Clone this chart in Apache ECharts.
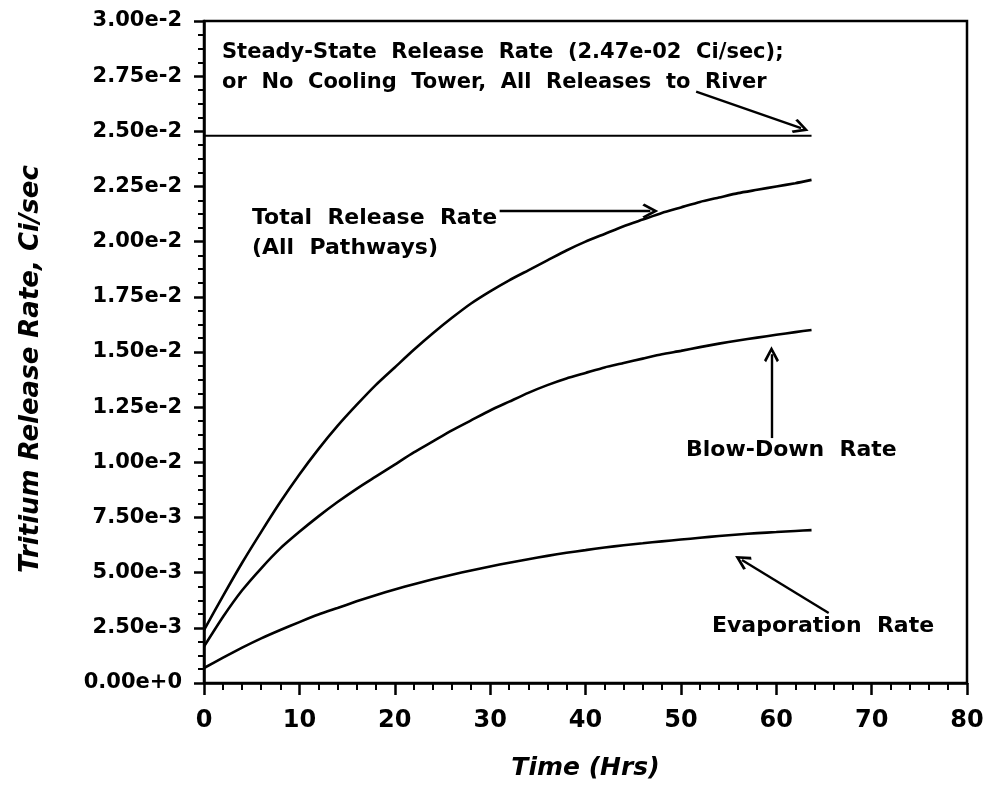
<!DOCTYPE html>
<html>
<head>
<meta charset="utf-8">
<script src="https://cdn.jsdelivr.net/npm/echarts@6/dist/echarts.min.js"></script>
<style>html,body{margin:0;padding:0;background:#fff;}#c{width:992px;height:795px;}</style>
</head>
<body>
<div id="c"></div>
<script>
// Time (hours)
var hours = [0, 2, 4, 6, 8, 10, 12, 14, 16, 18, 20, 22, 24, 26, 28, 30, 32, 34, 36, 38, 40, 42, 44, 46, 48, 50, 52, 54, 56, 58, 60, 62, 63.7];
// Release rates, Ci/sec (in units of 1e-3)
var totalRate = [2.4, 3.95, 5.45, 6.85, 8.2, 9.45, 10.6, 11.65, 12.6, 13.5, 14.3, 15.1, 15.85, 16.55, 17.2, 17.75, 18.25, 18.7, 19.15, 19.6, 20.0, 20.35, 20.7, 21.0, 21.3, 21.55, 21.8, 22.0, 22.2, 22.35, 22.5, 22.65, 22.8];
var blowDownRate = [1.65, 3.0, 4.2, 5.2, 6.1, 6.85, 7.55, 8.2, 8.8, 9.35, 9.9, 10.45, 10.95, 11.45, 11.9, 12.35, 12.75, 13.15, 13.5, 13.8, 14.05, 14.3, 14.5, 14.7, 14.9, 15.05, 15.22, 15.38, 15.52, 15.65, 15.78, 15.9, 16.0];
var evaporationRate = [0.68, 1.15, 1.6, 2.02, 2.4, 2.76, 3.1, 3.4, 3.7, 3.98, 4.24, 4.48, 4.7, 4.91, 5.1, 5.28, 5.45, 5.61, 5.76, 5.9, 6.02, 6.14, 6.24, 6.33, 6.42, 6.5, 6.58, 6.66, 6.73, 6.79, 6.84, 6.89, 6.93];
var steadyHours = [0, 63.7];
var steadyRate = [24.8, 24.8];

var FONT = '"DejaVu Sans", sans-serif';
function pairs(xs, ys) { return xs.map(function (x, i) { return [x, ys[i] * 1e-3]; }); }

var chevron = 'path://M5,0 L10,9 L8.6,10.2 L5,3.6 L1.4,10.2 L0,9 Z';
function arrow(x1, y1, x2, y2) {
  return [{ coord: [x1, y1], symbol: 'none' }, { coord: [x2, y2], symbol: chevron, symbolSize: [15, 16] }];
}

var lineStyleBase = { color: '#000', width: 2.6 };
var option = {
  animation: false,
  backgroundColor: '#fff',
  grid: { left: 204, right: 25, top: 21, bottom: 112, show: true, borderColor: '#000', borderWidth: 2.5, backgroundColor: 'transparent' },
  xAxis: {
    type: 'value', min: 0, max: 80, interval: 10,
    axisLine: { show: true, onZero: false, lineStyle: { color: '#000', width: 2.5 } },
    axisTick: { show: true, length: 12, lineStyle: { color: '#000', width: 2.5 } },
    minorTick: { show: true, splitNumber: 5, length: 7, lineStyle: { color: '#000', width: 2 } },
    splitLine: { show: false },
    axisLabel: { color: '#000', fontFamily: FONT, fontWeight: 'bold', fontSize: 24, margin: 26 },
    name: 'Time (Hrs)', nameLocation: 'middle', nameGap: 73,
    nameTextStyle: { color: '#000', fontFamily: FONT, fontWeight: 'bold', fontStyle: 'italic', fontSize: 25 }
  },
  yAxis: {
    type: 'value', min: 0, max: 0.03, interval: 0.0025,
    axisLine: { show: true, onZero: false, lineStyle: { color: '#000', width: 2.5 } },
    axisTick: { show: true, length: 10, lineStyle: { color: '#000', width: 2.5 } },
    minorTick: { show: true, splitNumber: 4, length: 6, lineStyle: { color: '#000', width: 2 } },
    splitLine: { show: false },
    axisLabel: { color: '#000', fontFamily: FONT, fontWeight: 'bold', fontSize: 21, margin: 22,
      formatter: function (v) { return v.toExponential(2); } },
    name: 'Tritium Release Rate, Ci/sec', nameLocation: 'middle', nameGap: 160, nameRotate: 90,
    nameTextStyle: { color: '#000', fontFamily: FONT, fontWeight: 'bold', fontStyle: 'italic', fontSize: 26, padding: [0, 34, 0, 0] }
  },
  series: [
    { name: 'Steady-State', type: 'line', data: pairs(steadyHours, steadyRate), showSymbol: false, lineStyle: { color: '#000', width: 2.2 },
      markLine: { silent: true, symbol: ['none', 'none'], label: { show: false }, lineStyle: { color: '#000', width: 2.4, type: 'solid' },
        data: [
          arrow(51.6, 0.02680, 62.6, 0.02515),
          arrow(31.0, 0.02139, 46.8, 0.02139),
          arrow(59.5, 0.01110, 59.5, 0.01490),
          arrow(65.5, 0.00317, 56.4, 0.00557)
        ] } },
    { name: 'Total', type: 'line', data: pairs(hours, totalRate), showSymbol: false, smooth: 0.2, lineStyle: lineStyleBase },
    { name: 'Blow-Down', type: 'line', data: pairs(hours, blowDownRate), showSymbol: false, smooth: 0.2, lineStyle: lineStyleBase },
    { name: 'Evaporation', type: 'line', data: pairs(hours, evaporationRate), showSymbol: false, smooth: 0.2, lineStyle: lineStyleBase }
  ],
  graphic: [
    { type: 'text', left: 222, top: 38, style: { text: 'Steady-State  Release  Rate  (2.47e-02  Ci/sec);\nor  No  Cooling  Tower,  All  Releases  to  River', fill: '#000', font: 'bold 21px ' + FONT, lineHeight: 30 } },
    { type: 'text', left: 252, top: 203, style: { text: 'Total  Release  Rate\n(All  Pathways)', fill: '#000', font: 'bold 22px ' + FONT, lineHeight: 30 } },
    { type: 'text', left: 686, top: 439, style: { text: 'Blow-Down  Rate', fill: '#000', font: 'bold 22px ' + FONT } },
    { type: 'text', left: 712, top: 615, style: { text: 'Evaporation  Rate', fill: '#000', font: 'bold 22px ' + FONT } }
  ]
};
var chart = echarts.init(document.getElementById('c'), null, { renderer: 'canvas' });
chart.setOption(option);
</script>
</body>
</html>
